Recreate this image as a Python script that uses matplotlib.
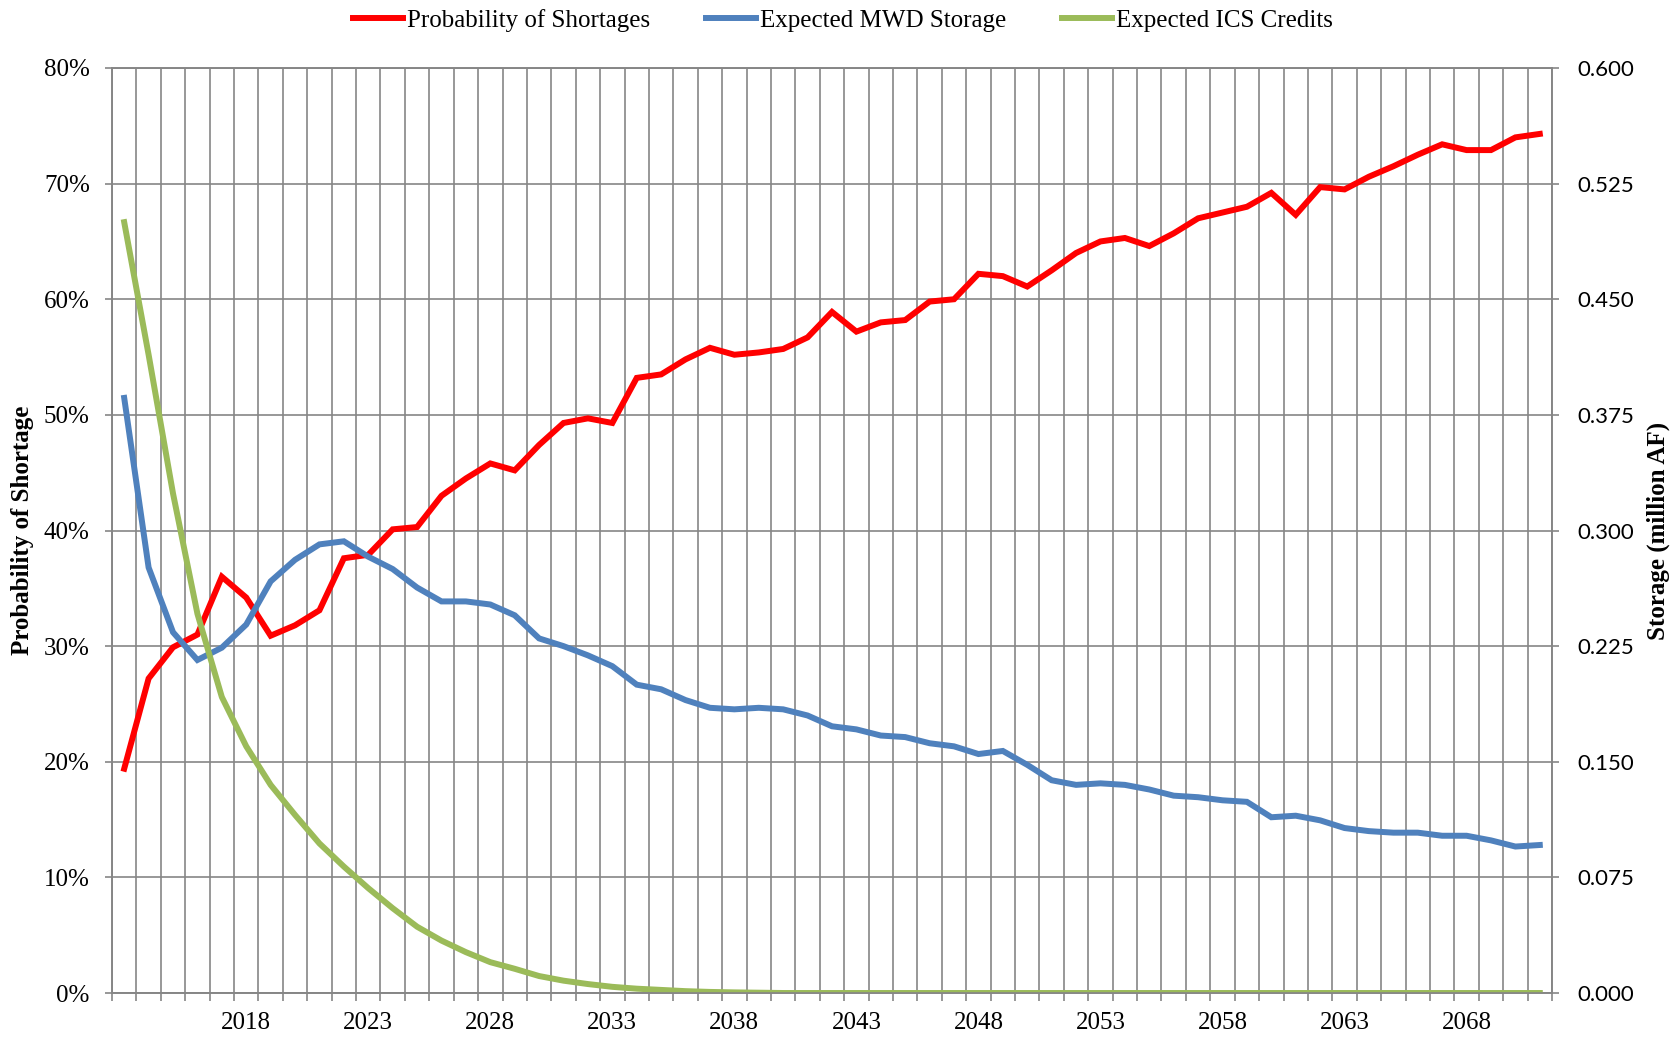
import matplotlib
matplotlib.use("Agg")
import matplotlib.pyplot as plt
from matplotlib.ticker import FixedLocator, FuncFormatter
import numpy as np

# data (2013 - 2071)
years = list(range(2013, 2072))

shortage_pct = [19.4, 27.2, 29.9, 31.0, 36.0, 34.2, 30.9, 31.8, 33.1, 37.6,
                37.9, 40.1, 40.3, 43.0, 44.5, 45.8, 45.2, 47.4, 49.3, 49.7,
                49.3, 53.2, 53.5, 54.8, 55.8, 55.2, 55.4, 55.7, 56.7, 58.9,
                57.2, 58.0, 58.2, 59.8, 60.0, 62.2, 62.0, 61.1, 62.5, 64.0,
                65.0, 65.3, 64.6, 65.7, 67.0, 67.5, 68.0, 69.2, 67.3, 69.7,
                69.5, 70.6, 71.5, 72.5, 73.4, 72.9, 72.9, 74.0, 74.3]

mwd_storage = [0.386, 0.276, 0.234, 0.216, 0.224, 0.239, 0.267, 0.281, 0.291, 0.293,
               0.283, 0.275, 0.263, 0.254, 0.254, 0.252, 0.245, 0.230, 0.225, 0.219,
               0.212, 0.200, 0.197, 0.190, 0.185, 0.184, 0.185, 0.184, 0.180, 0.173,
               0.171, 0.167, 0.166, 0.162, 0.160, 0.155, 0.157, 0.148, 0.138, 0.135,
               0.136, 0.135, 0.132, 0.128, 0.127, 0.125, 0.124, 0.114, 0.115, 0.112,
               0.107, 0.105, 0.104, 0.104, 0.102, 0.102, 0.099, 0.095, 0.096]

ics_credits = [0.500, 0.414, 0.324, 0.246, 0.192, 0.160, 0.135, 0.1155, 0.097, 0.082,
               0.068, 0.055, 0.043, 0.034, 0.0265, 0.020, 0.0157, 0.011, 0.008, 0.0058,
               0.004, 0.0028, 0.002, 0.0012, 0.0007, 0.0004, 0.0002, 0, 0, 0,
               0, 0, 0, 0, 0, 0, 0, 0, 0, 0,
               0, 0, 0, 0, 0, 0, 0, 0, 0, 0,
               0, 0, 0, 0, 0, 0, 0, 0, 0]

label_years = list(range(2018, 2069, 5))
pct_ticks = list(range(0, 81, 10))
storage_ticks = [0.0, 0.075, 0.15, 0.225, 0.3, 0.375, 0.45, 0.525, 0.6]

grid_c = "#868686"
serif = "Liberation Serif"

x = np.arange(len(years))

fig = plt.figure(figsize=(16.77, 10.39), dpi=100)
ax = fig.add_axes([112 / 1677, 1 - 993 / 1039, 1440 / 1677, 925 / 1039])
ax2 = ax.twinx()

l1, = ax.plot(x, shortage_pct, color="#FF0000", lw=4.3, solid_joinstyle="miter",
              label="Probability of Shortages")
l2, = ax2.plot(x, mwd_storage, color="#4F81BD", lw=4.3, solid_joinstyle="miter",
               label="Expected MWD Storage")
l3, = ax2.plot(x, ics_credits, color="#9BBB59", lw=4.3, solid_joinstyle="miter",
               label="Expected ICS Credits")

ax.set_xlim(-0.5, len(years) - 0.5)
ax.set_ylim(0, 80)
ax2.set_ylim(0, 0.6)

# year labels at category centres, tick marks / vertical grid at boundaries
ax.xaxis.set_major_locator(FixedLocator([years.index(y) for y in label_years]))
ax.set_xticklabels([str(y) for y in label_years])
ax.xaxis.set_minor_locator(FixedLocator(np.arange(-0.5, len(years), 1.0)))
ax.tick_params(axis="x", which="major", length=0, pad=14, labelsize=18)
ax.tick_params(axis="x", which="minor", length=6, width=1.2, color=grid_c)
ax.grid(axis="x", which="minor", color=grid_c, lw=1.2)

ax.set_yticks(pct_ticks)
ax.yaxis.set_major_formatter(FuncFormatter(lambda v, p: f"{v:.0f}%"))
ax.tick_params(axis="y", length=5, width=1.2, color=grid_c, pad=11, labelsize=18)
ax.grid(axis="y", which="major", color=grid_c, lw=1.2)
ax.set_axisbelow(True)

ax2.set_yticks(storage_ticks)
ax2.yaxis.set_major_formatter(FuncFormatter(lambda v, p: f"{v:.3f}"))
ax2.tick_params(axis="y", length=5, width=1.2, color=grid_c, pad=13, labelsize=16)

for lab in ax.get_xticklabels() + ax.get_yticklabels():
    lab.set_fontfamily(serif)
for lab in ax2.get_yticklabels():
    lab.set_fontfamily("Lato")

for a in (ax, ax2):
    for s in a.spines.values():
        s.set_color(grid_c)
        s.set_linewidth(1.2)

ax.set_ylabel("Probability of Shortage", fontsize=18, fontweight="bold",
              family=serif, va="center", ha="center")
ax.yaxis.set_label_coords(-0.062, 0.5)
ax2.set_ylabel("Storage (million AF)", fontsize=18, fontweight="bold",
               family=serif, rotation=90, va="center", ha="center")
ax2.yaxis.set_label_coords(1.0736, 0.5)

fig.legend(handles=[l1, l2, l3], loc="center", bbox_to_anchor=(0.5027, 0.9805),
           ncol=3, frameon=False, prop={"family": serif, "size": 18},
           handlelength=2.0, handletextpad=0.15, columnspacing=2.25)

fig.savefig("out.png", dpi=100)
